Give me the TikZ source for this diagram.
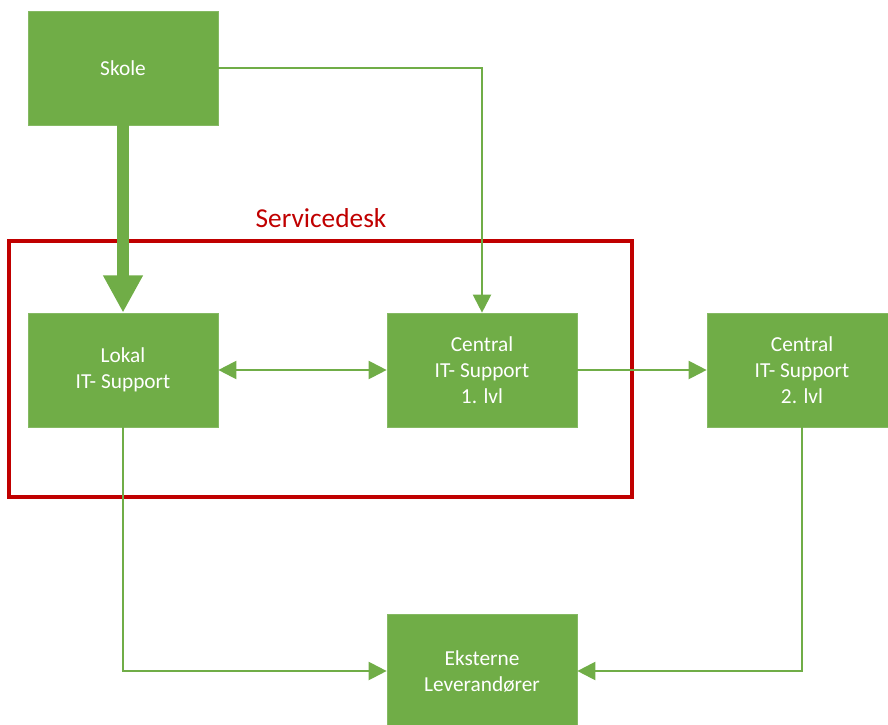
\documentclass[tikz,border=0pt]{standalone}
\usepackage{fontspec}
\setmainfont{Carlito}
\usetikzlibrary{arrows.meta,positioning}
\definecolor{sdGreen}{HTML}{70AD47}
\definecolor{sdRed}{HTML}{C00000}
\tikzset{
 chart/.style={x=.75pt,y=-.75pt,line join=miter},
 unit/.style={rectangle,fill=sdGreen,draw=sdGreen!85!white,line width=.5pt,
   minimum width=142.5pt,minimum height=85.5pt,inner sep=2pt,
   text=white,align=center,font=\fontsize{16}{19.5}\selectfont},
 link/.style={draw=sdGreen,line width=1.6pt,-{Triangle[length=13.5pt,width=13.5pt]}},
 twoway/.style={link,{Triangle[length=13.5pt,width=13.5pt]}-{Triangle[length=13.5pt,width=13.5pt]}},
 main/.style={draw=sdGreen,line width=9.5pt,-{Triangle[length=28pt,width=28pt]}},
 desk/.style={draw=sdRed,line width=3.4pt},
 desklabel/.style={text=sdRed,font=\fontsize{20.5}{24}\selectfont}
}
\begin{document}
\begin{tikzpicture}[chart]
 \useasboundingbox (0,0) rectangle (888,724);
 % boxes
 \node[unit] (skole) at (123,68) {Skole};
 \node[unit] (lokal) at (123,370) {Lokal\\IT- Support};
 \node[unit] (cent1) at (482,370) {Central\\IT- Support\\1. lvl};
 \node[unit] (cent2) at (802,370) {Central\\IT- Support\\2. lvl};
 \node[unit] (ekst) at (482,671) {Eksterne\\Leverandører};
 % servicedesk frame
 \draw[desk] (9,241) rectangle (632,497);
 \node[desklabel] (sdesk) at (321,218) {Servicedesk};
 % connectors
 \draw[main] (skole.south) -- (lokal.north);
 \draw[link] (skole.east) -| (cent1.north);
 \draw[twoway] (lokal.east) -- (cent1.west);
 \draw[link] (cent1.east) -- (cent2.west);
 \draw[link] (lokal.south) |- (ekst.west);
 \draw[link] (cent2.south) |- (ekst.east);
\end{tikzpicture}
\end{document}
